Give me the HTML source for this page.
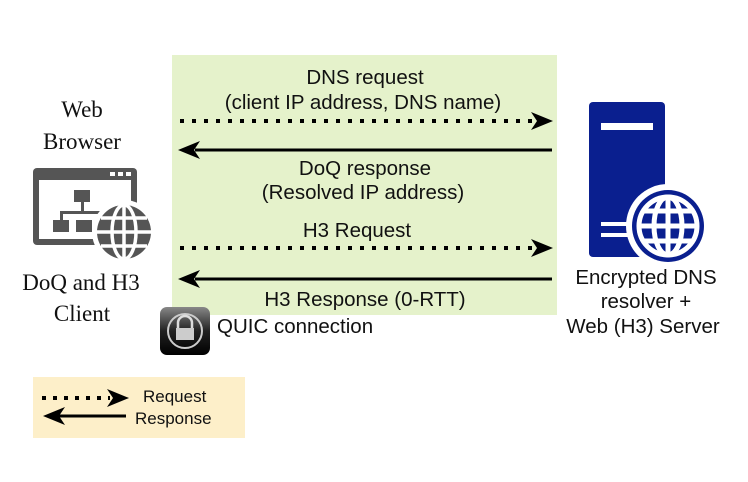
<!DOCTYPE html>
<html><head><style>
body{margin:0;background:#fff;}
svg text{font-family:"Liberation Sans",sans-serif;fill:#111;}
.s{font-family:"Liberation Serif",serif !important;}
</style></head><body>
<svg width="748" height="477" viewBox="0 0 748 477" xmlns="http://www.w3.org/2000/svg">
<rect x="172" y="55" width="385" height="260" fill="#e5f2cb"/>
<g font-size="20.5" text-anchor="middle">
<text x="365" y="84">DNS request</text>
<text x="363" y="109">(client IP address, DNS name)</text>
<text x="365" y="175">DoQ response</text>
<text x="363" y="199">(Resolved IP address)</text>
<text x="357" y="237">H3 Request</text>
<text x="365" y="306">H3 Response (0-RTT)</text>
<text x="217" y="333" text-anchor="start">QUIC connection</text>
</g>
<line x1="180" y1="121" x2="535" y2="121" stroke="#000" stroke-width="4" stroke-dasharray="4,8"/>
<path d="M531,112 L553,121 L531,130 L537,121 Z" fill="#000"/>
<line x1="195" y1="150" x2="552" y2="150" stroke="#000" stroke-width="3"/>
<path d="M200,141 L178,150 L200,159 L194,150 Z" fill="#000"/>
<line x1="180" y1="248" x2="535" y2="248" stroke="#000" stroke-width="4" stroke-dasharray="4,8"/>
<path d="M531,239 L553,248 L531,257 L537,248 Z" fill="#000"/>
<line x1="195" y1="279" x2="552" y2="279" stroke="#000" stroke-width="3"/>
<path d="M200,270 L178,279 L200,288 L194,279 Z" fill="#000"/>
<g font-size="23" text-anchor="middle">
<text class="s" x="82" y="117">Web</text>
<text class="s" x="82" y="149">Browser</text>
<text class="s" x="81" y="290">DoQ and H3</text>
<text class="s" x="82" y="321">Client</text>
</g>
<rect x="33" y="168" width="104" height="77" rx="4" fill="#555"/>
<rect x="39" y="180" width="92" height="59" fill="#fff"/>
<rect x="110" y="172" width="5" height="4" fill="#fff"/><rect x="118" y="172" width="5" height="4" fill="#fff"/><rect x="126" y="172" width="5" height="4" fill="#fff"/>
<rect x="74" y="190" width="16" height="12" fill="#555"/>
<rect x="81" y="202" width="3" height="10" fill="#555"/>
<rect x="60" y="211" width="40" height="3" fill="#555"/>
<rect x="60" y="211" width="3" height="10" fill="#555"/>
<rect x="53" y="220" width="16" height="12" fill="#555"/>
<rect x="76" y="220" width="16" height="12" fill="#555"/>
<circle cx="124" cy="232" r="32" fill="#fff"/>
<g stroke="#555" fill="none" stroke-width="3.5">
<circle cx="124" cy="232" r="27" fill="#555" stroke="none"/>
<ellipse cx="124" cy="232" rx="12" ry="27" stroke="#fff"/>
<line x1="124" y1="205" x2="124" y2="259" stroke="#fff"/>
<line x1="97" y1="232" x2="151" y2="232" stroke="#fff"/>
<line x1="101" y1="218" x2="147" y2="218" stroke="#fff"/>
<line x1="101" y1="246" x2="147" y2="246" stroke="#fff"/>
</g>
<rect x="589" y="102" width="76" height="155" rx="4" fill="#0a1f8f"/>
<rect x="601" y="123" width="52" height="7" fill="#fff"/>
<rect x="601" y="222" width="30" height="4" fill="#fff"/>
<rect x="601" y="233" width="30" height="4" fill="#fff"/>
<circle cx="668" cy="226" r="42" fill="#fff"/>
<circle cx="668" cy="226" r="36" fill="#0a1f8f"/>
<g stroke="#fff" fill="none" stroke-width="5">
<ellipse cx="668" cy="226" rx="14" ry="29"/>
<line x1="668" y1="197" x2="668" y2="255"/>
<line x1="639" y1="226" x2="697" y2="226"/>
<line x1="643" y1="211" x2="693" y2="211"/>
<line x1="643" y1="241" x2="693" y2="241"/>
<circle cx="668" cy="226" r="29"/>
</g>
<g font-size="20.5" text-anchor="middle">
<text x="646" y="284">Encrypted DNS</text>
<text x="646" y="308">resolver +</text>
<text x="643" y="333">Web (H3) Server</text>
</g>
<defs><linearGradient id="qg" x1="0" y1="0" x2="0" y2="1"><stop offset="0" stop-color="#888"/><stop offset="0.5" stop-color="#222"/><stop offset="1" stop-color="#000"/></linearGradient></defs>
<rect x="160" y="307" width="50" height="48" rx="7" fill="url(#qg)"/>
<circle cx="185" cy="331" r="17" fill="none" stroke="#ccc" stroke-width="2"/>
<path d="M178,328 v-5 a7,7 0 0 1 14,0 v5" fill="none" stroke="#ddd" stroke-width="2.5"/>
<rect x="176" y="328" width="18" height="12" fill="#ccc"/>
<rect x="33" y="377" width="212" height="61" fill="#fdefc9"/>
<line x1="42" y1="398" x2="110" y2="398" stroke="#000" stroke-width="4" stroke-dasharray="4,7"/>
<path d="M107,389 L129,398 L107,407 L113,398 Z" fill="#000"/>
<line x1="55" y1="416" x2="126" y2="416" stroke="#000" stroke-width="3"/>
<path d="M65,407 L43,416 L65,425 L59,416 Z" fill="#000"/>
<text x="143" y="402" font-size="17">Request</text>
<text x="135" y="424" font-size="17">Response</text>
</svg>
</body></html>
